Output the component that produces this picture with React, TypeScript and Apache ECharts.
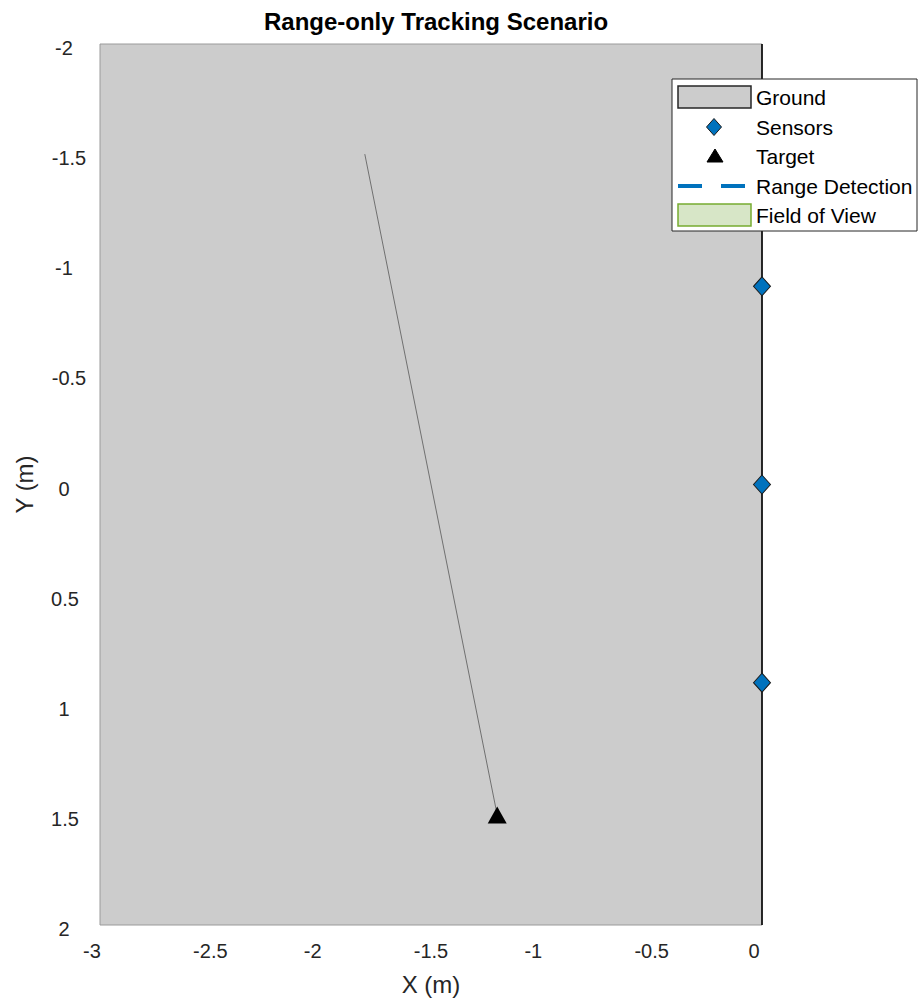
import React, { useEffect, useRef } from "react";
import * as echarts from "echarts";

const FONT = "'Liberation Sans', Arial, Helvetica, sans-serif";

// Axis ranges and ticks
const xRange = [-3, 0];
const yRange = [-2, 2];
const tickStep = 0.5;

// Ground area corners [x, y]
const groundFrom = [-3, -2];
const groundTo = [0, 2];

// Sensor positions
const sensorX = [0, 0, 0];
const sensorY = [-0.9, 0, 0.9];

// Target position
const targetX = [-1.2];
const targetY = [1.5];

// Target trajectory
const trajX = [-1.8, -1.2];
const trajY = [-1.5, 1.5];

// Sensor boundary line
const boundaryX = [0, 0];
const boundaryY = [-2, 2];

const legendNames = ["Ground", "Sensors", "Target", "Range Detection", "Field of View"];

const zip = (xs: number[], ys: number[]) => xs.map((x, i) => [x, ys[i]]);

export default function App() {
  const ref = useRef<HTMLDivElement>(null);
  useEffect(() => {
    if (!ref.current) return;
    const chart = echarts.init(ref.current, undefined, { renderer: "svg" });
    const tickColor = "#262626";
    const lx = 672, ly = 79, lw = 245, lh = 152;
    const rowY = [97, 127, 156, 186, 215];
    const legendEls: any[] = [
      { type: "rect", z: 100, shape: { x: lx, y: ly, width: lw, height: lh }, style: { fill: "#ffffff", stroke: "#262626", lineWidth: 1 } },
      { type: "rect", z: 101, shape: { x: 678, y: rowY[0] - 11, width: 73, height: 22 }, style: { fill: "#cccccc", stroke: "#262626", lineWidth: 1.5 } },
      { type: "polygon", z: 101, shape: { points: [[714, rowY[1] - 8.5], [721.5, rowY[1]], [714, rowY[1] + 8.5], [706.5, rowY[1]]] }, style: { fill: "#0072BD", stroke: "#1a1a1a", lineWidth: 1 } },
      { type: "polygon", z: 101, shape: { points: [[715, rowY[2] - 7], [723, rowY[2] + 6], [707, rowY[2] + 6]] }, style: { fill: "#000000", stroke: "#000000", lineWidth: 1 } },
      { type: "line", z: 101, shape: { x1: 678, y1: rowY[3], x2: 751, y2: rowY[3] }, style: { stroke: "#0072BD", lineWidth: 4, lineDash: [24, 19] } },
      { type: "rect", z: 101, shape: { x: 678, y: rowY[4] - 11, width: 73, height: 22 }, style: { fill: "#d7e6c7", stroke: "#77AC30", lineWidth: 1.5 } },
    ];
    legendNames.forEach((n, i) => {
      legendEls.push({
        type: "text",
        z: 102,
        x: 756,
        y: rowY[i],
        style: { text: n, font: `21px ${FONT}`, fill: "#000000", verticalAlign: "middle", align: "left" },
      });
    });

    const xFmt = (v: number) => (Number.isInteger(v) ? `{i|${v}}` : `{h|${v}}`);
    const yFmt = (v: number) => {
      if (Number.isInteger(v)) return `{i|${v}}`;
      return v < 0 ? `{hn|${v}}` : `{hp|${v}}`;
    };
    const base = { fontSize: 20, color: tickColor, fontFamily: FONT };

    chart.setOption({
      animation: false,
      backgroundColor: "#ffffff",
      title: {
        text: "Range-only Tracking Scenario",
        left: 431,
        top: 4,
        textAlign: "center",
        textStyle: { fontFamily: FONT, fontSize: 24, fontWeight: "bold", color: "#000000" },
      },
      grid: { left: 100, right: 157, top: 44, bottom: 77, containLabel: false },
      xAxis: {
        type: "value",
        min: xRange[0],
        max: xRange[1],
        interval: tickStep,
        name: "X (m)",
        nameLocation: "middle",
        nameGap: 47,
        nameTextStyle: { fontFamily: FONT, fontSize: 24, color: tickColor },
        axisLine: { show: false },
        axisTick: { show: false },
        splitLine: { show: false },
        axisLabel: {
          margin: 16,
          formatter: xFmt,
          ...base,
          rich: { i: { ...base, padding: [0, 16, 0, 0] }, h: { ...base } },
        },
      },
      yAxis: {
        type: "value",
        inverse: true,
        min: yRange[0],
        max: yRange[1],
        interval: tickStep,
        name: "Y (m)",
        nameLocation: "middle",
        nameRotate: 90,
        nameGap: 64,
        nameTextStyle: { fontFamily: FONT, fontSize: 24, color: tickColor },
        axisLine: { show: false },
        axisTick: { show: false },
        splitLine: { show: false },
        axisLabel: {
          margin: 36,
          align: "center",
          formatter: yFmt,
          ...base,
          rich: {
            i: { ...base, padding: [8, 0, 0, 0] },
            hn: { ...base, padding: [8, 0, 0, 10] },
            hp: { ...base, padding: [8, 0, 0, 2] },
          },
        },
      },
      graphic: legendEls,
      series: [
        {
          name: "Ground",
          type: "line",
          z: 1,
          data: [],
          markArea: {
            silent: true,
            itemStyle: { color: "#cccccc", borderColor: "#9a9a9a", borderWidth: 1 },
            data: [[{ coord: groundFrom }, { coord: groundTo }]],
          },
        },
        {
          name: "Boundary",
          type: "line",
          z: 3,
          data: zip(boundaryX, boundaryY),
          showSymbol: false,
          lineStyle: { color: "#000000", width: 1.6 },
        },
        {
          name: "Trajectory",
          type: "line",
          z: 4,
          data: zip(trajX, trajY),
          showSymbol: false,
          lineStyle: { color: "#707070", width: 1 },
        },
        {
          name: "Sensors",
          type: "scatter",
          z: 5,
          symbol: "diamond",
          symbolSize: [17, 19],
          data: zip(sensorX, sensorY),
          itemStyle: { color: "#0072BD", borderColor: "#1a1a1a", borderWidth: 1, opacity: 1 },
        },
        {
          name: "Target",
          type: "scatter",
          z: 6,
          symbol: "triangle",
          symbolSize: [19, 17],
          data: zip(targetX, targetY),
          itemStyle: { color: "#000000", opacity: 1 },
        },
      ],
    });
    return () => chart.dispose();
  }, []);
  return <div ref={ref} style={{ position: "absolute", left: 0, top: 0, width: 919, height: 1002 }} />;
}
